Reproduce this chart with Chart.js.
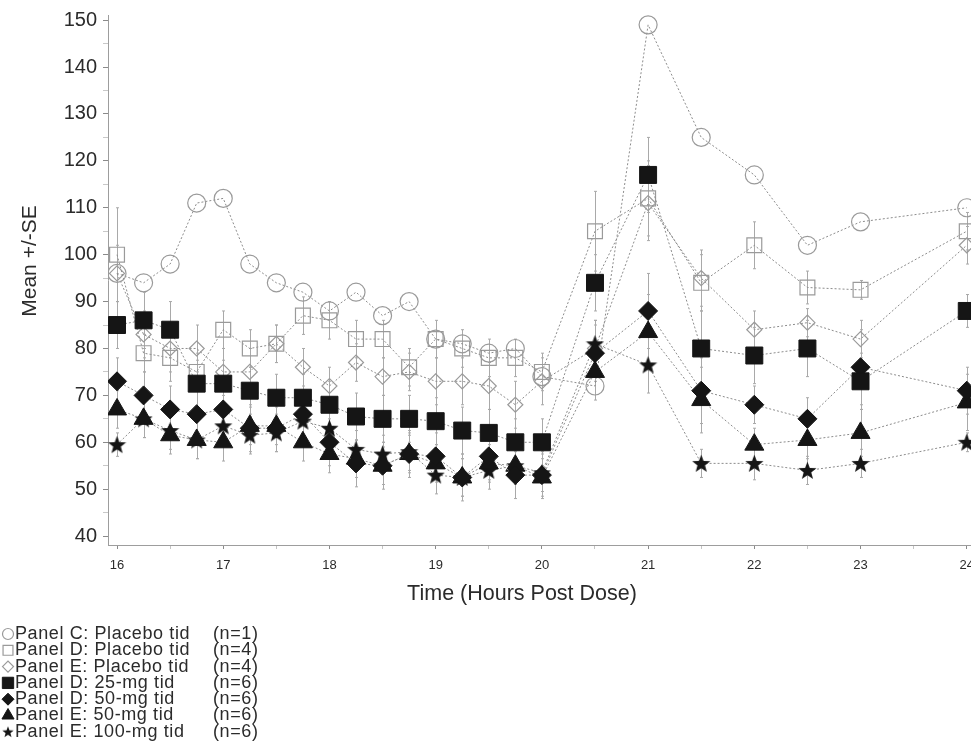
<!DOCTYPE html>
<html>
<head>
<meta charset="utf-8">
<script src="https://cdn.jsdelivr.net/npm/chart.js@4.4.1/dist/chart.umd.min.js"></script>
<style>
  html, body { margin: 0; padding: 0; background: #ffffff; }
  canvas { display: block; }
</style>
</head>
<body>
<canvas id="chart" width="971" height="742"></canvas>
<script>
// Sampling times (hours post dose)
const hours = [16, 16.25, 16.5, 16.75, 17, 17.25, 17.5, 17.75, 18, 18.25, 18.5, 18.75,
               19, 19.25, 19.5, 19.75, 20, 20.5, 21, 21.5, 22, 22.5, 23, 24];

// Group means
const panelCPlacebo = [96, 94, 98, 111, 112, 98, 94, 92, 88, 92, 87, 90, 82, 81, 79, 80, 74, 72, 149, 125, 117, 102, 107, 110];
const panelDPlacebo = [100, 79, 78, 75, 84, 80, 81, 87, 86, 82, 82, 76, 82, 80, 78, 78, 75, 105, 112, 94, 102, 93, 92.5, 105];
const panelEPlacebo = [96, 83, 80, 80, 75, 75, 81, 76, 72, 77, 74, 75, 73, 73, 72, 68, 73, 80, 111, 95, 84, 85.5, 82, 102];
const panelD25mg    = [85, 86, 84, 72.5, 72.5, 71, 69.5, 69.5, 68, 65.5, 65, 65, 64.5, 62.5, 62, 60, 60, 94, 117, 80, 78.5, 80, 73, 88];
const panelD50mg    = [73, 70, 67, 66, 67, 63, 63, 66, 60, 55.5, 55, 57.5, 57, 52.5, 57, 53, 53, 79, 88, 71, 68, 65, 76, 71];
const panelE50mg    = [67, 65, 61.5, 60.5, 60, 63.5, 63.5, 60, 57.5, 56.5, 55, 57.5, 55.5, 52.5, 55.5, 55, 52.5, 75, 83.5, 69, 59.5, 60.5, 62, 68.5];
const panelE100mg   = [59.5, 65, 62.5, 60.5, 63.5, 61.5, 62, 64.5, 63, 58.5, 57.5, 58, 53, 52.5, 54, 55, 53.5, 81, 76.5, 55.5, 55.5, 54, 55.5, 60];

// Standard errors (single-subject group has none)
const seDPlacebo = [10, 4, 5, 4, 4, 4, 4, 4, 4, 4, 4, 4, 4, 4, 4, 4, 4, 8.5, 8, 6, 5, 3.5, 2, 4];
const seEPlacebo = [6, 5, 5, 5, 5, 5, 4, 4, 4, 4, 4, 4, 5, 5, 5, 5, 5, 6, 8, 6, 4, 3, 4, 4];
const seD25mg    = [5, 6, 6, 5, 5, 5, 5, 5, 5, 5, 5, 5, 5, 5, 5, 5, 5, 6, 8, 8, 6, 6, 6, 3.5];
const seD50mg    = [5, 5, 5, 5, 5, 5, 5, 5, 5, 5, 5, 5, 5, 5, 5, 5, 5, 6, 8, 7, 4, 4.5, 8, 5];
const seE50mg    = [4, 4, 4, 4, 4, 4, 4, 4, 4, 4, 4, 4, 4, 4, 4, 4, 4, 6, 8, 7, 3.5, 4, 5, 6];
const seE100mg   = [2.5, 4, 4, 4, 4, 4, 4, 4, 4, 4, 4, 4, 4, 4, 4, 4, 4, 5, 6, 3, 3.5, 3, 3, 2];

// Legend text
const groupNames = ['Panel C: Placebo tid', 'Panel D: Placebo tid', 'Panel E: Placebo tid',
                    'Panel D: 25-mg tid', 'Panel D: 50-mg tid', 'Panel E: 50-mg tid', 'Panel E: 100-mg tid'];
const groupSizes = ['(n=1)', '(n=4)', '(n=4)', '(n=6)', '(n=6)', '(n=6)', '(n=6)'];

const yTickValues = [40, 50, 60, 70, 80, 90, 100, 110, 120, 130, 140, 150];
const xTickValues = [16, 17, 18, 19, 20, 21, 22, 23, 24];

const xTitle = 'Time (Hours Post Dose)';
const yTitle = 'Mean +/-SE';

// ---------------------------------------------------------------------------
const FONT = '"Liberation Sans", Arial, sans-serif';
const INK = '#2b2b2b';
const OPEN = '#9a9a9a';
const SOLID = '#151515';
const LINE = '#8c8c8c';

function starCanvas(size, color) {
  const c = document.createElement('canvas');
  c.width = size; c.height = size;
  const g = c.getContext('2d');
  const cx = size / 2, cy = size / 2 + size * 0.04;
  const R = size / 2, r = R * 0.42;
  g.beginPath();
  for (let k = 0; k < 10; k++) {
    const rad = -Math.PI / 2 + k * Math.PI / 5;
    const rr = k % 2 === 0 ? R : r;
    const px = cx + rr * Math.cos(rad), py = cy + rr * Math.sin(rad);
    if (k === 0) g.moveTo(px, py); else g.lineTo(px, py);
  }
  g.closePath();
  g.fillStyle = color;
  g.fill();
  return c;
}
const starBig = starCanvas(19, SOLID);
const starSmall = starCanvas(12, SOLID);

function points(values) {
  return values.map((v, i) => ({ x: hours[i], y: v }));
}

function series(label, values, se, style) {
  return Object.assign({
    label,
    data: points(values),
    se,
    showLine: true,
    borderColor: LINE,
    borderWidth: 1,
    borderDash: [2, 2],
    tension: 0,
    fill: false,
    pointHoverRadius: 0
  }, style);
}

const openStyle = (shape, r, lr) => ({
  pointStyle: shape, pointRadius: r, legendRadius: lr,
  pointBackgroundColor: 'rgba(255,255,255,0)', pointBorderColor: OPEN, pointBorderWidth: 1.2, order: 2
});
const solidStyle = (shape, r, lr) => ({
  pointStyle: shape, pointRadius: r, legendRadius: lr,
  pointBackgroundColor: SOLID, pointBorderColor: SOLID, pointBorderWidth: 1, order: 1
});

const datasets = [
  series(groupNames[0], panelCPlacebo, null, openStyle('circle', 9, 5.5)),
  series(groupNames[1], panelDPlacebo, seDPlacebo, openStyle('rect', 10.5, 7)),
  series(groupNames[2], panelEPlacebo, seEPlacebo, openStyle('rectRot', 7.5, 5.5)),
  series(groupNames[3], panelD25mg, seD25mg, solidStyle('rect', 12, 8)),
  series(groupNames[4], panelD50mg, seD50mg, solidStyle('rectRot', 9.5, 6)),
  series(groupNames[5], panelE50mg, seE50mg, solidStyle('triangle', 11, 7)),
  Object.assign(series(groupNames[6], panelE100mg, seE100mg, solidStyle(starBig, 9, 6)), { legendStyle: starSmall })
];

// Vertical +/-SE whiskers, drawn beneath the markers
const seWhiskers = {
  id: 'seWhiskers',
  beforeDatasetsDraw(chart) {
    const { ctx } = chart;
    const yScale = chart.scales.y;
    ctx.save();
    ctx.strokeStyle = '#a9a9a9';
    ctx.lineWidth = 1;
    chart.data.datasets.forEach((ds, i) => {
      if (!ds.se) return;
      const meta = chart.getDatasetMeta(i);
      meta.data.forEach((pt, j) => {
        const v = ds.data[j].y, e = ds.se[j];
        const px = Math.round(pt.x) + 0.5;
        const top = yScale.getPixelForValue(v + e), bot = yScale.getPixelForValue(v - e);
        ctx.beginPath();
        ctx.moveTo(px, top); ctx.lineTo(px, bot);
        ctx.moveTo(px - 1.5, top); ctx.lineTo(px + 1.5, top);
        ctx.moveTo(px - 1.5, bot); ctx.lineTo(px + 1.5, bot);
        ctx.stroke();
      });
    });
    ctx.restore();
  }
};

// Axis titles placed at fixed offsets from the plot frame
const axisTitles = {
  id: 'axisTitles',
  afterDraw(chart, args, opts) {
    const { ctx } = chart;
    ctx.save();
    ctx.fillStyle = INK;
    ctx.textAlign = 'center';
    ctx.textBaseline = 'middle';
    ctx.font = opts.xFont;
    ctx.fillText(xTitle, opts.xAt[0], opts.xAt[1]);
    ctx.translate(opts.yAt[0], opts.yAt[1]);
    ctx.rotate(-Math.PI / 2);
    ctx.font = opts.yFont;
    ctx.fillText(yTitle, 0, 0);
    ctx.restore();
  }
};

// One-column key below the axis
const stackedKey = {
  id: 'stackedKey',
  afterDraw(chart, args, opts) {
    const { ctx } = chart;
    ctx.save();
    ctx.font = opts.font;
    ctx.textBaseline = 'middle';
    chart.data.datasets.forEach((ds, i) => {
      const y = opts.top + i * opts.step;
      ctx.fillStyle = ds.pointBackgroundColor;
      ctx.strokeStyle = ds.pointBorderColor;
      ctx.lineWidth = ds.pointBorderWidth;
      Chart.helpers.drawPoint(ctx, {
        pointStyle: ds.legendStyle || ds.pointStyle,
        radius: ds.legendRadius,
        borderWidth: ds.pointBorderWidth,
        rotation: 0
      }, opts.symbolX, y);
      ctx.fillStyle = INK;
      ctx.textAlign = 'left';
      ctx.letterSpacing = opts.spacing;
      ctx.fillText(ds.label, opts.textX, y);
      ctx.fillText(groupSizes[i], opts.sizeX, y);
      ctx.letterSpacing = '0px';
    });
    ctx.restore();
  }
};

new Chart(document.getElementById('chart'), {
  type: 'line',
  data: { datasets },
  plugins: [seWhiskers, axisTitles, stackedKey],
  options: {
    responsive: false,
    devicePixelRatio: 1,
    animation: false,
    events: [],
    layout: { autoPadding: false, padding: { top: 15, right: 0, bottom: 137, left: 0 } },
    plugins: {
      legend: { display: false },
      tooltip: { enabled: false },
      axisTitles: { xFont: '21.5px ' + FONT, yFont: '21px ' + FONT, xAt: [522, 594], yAt: [30, 261] },
      stackedKey: { font: '18px ' + FONT, spacing: '0.6px', top: 634, step: 16.3, symbolX: 8, textX: 15, sizeX: 213 }
    },
    scales: {
      x: {
        type: 'linear',
        min: 15.915,
        max: 24.04,
        afterBuildTicks(scale) {
          const ticks = [];
          for (let v = 16; v <= 24; v += 0.5) ticks.push({ value: v });
          scale.ticks = ticks;
        },
        afterFit(scale) { scale.height = 60; scale.paddingLeft = 0; scale.paddingRight = 0; },
        border: { display: true, color: '#9d9d9d', width: 1, dash: [2, 1] },
        grid: {
          drawOnChartArea: false,
          drawTicks: true,
          tickLength: 4,
          tickColor: (c) => (Number.isInteger(c.tick.value) ? '#8a8a8a' : '#c4c4c4')
        },
        ticks: {
          autoSkip: false,
          maxRotation: 0,
          padding: 9,
          color: INK,
          font: { family: FONT, size: 13 },
          callback: (v) => (xTickValues.includes(v) ? String(v) : '')
        },
        title: { display: false }
      },
      y: {
        type: 'linear',
        min: 38.1,
        max: 151.1,
        afterBuildTicks(scale) {
          const ticks = [];
          for (let v = 40; v <= 150; v += 5) ticks.push({ value: v });
          scale.ticks = ticks;
        },
        afterFit(scale) { scale.width = 108; scale.paddingTop = 0; scale.paddingBottom = 0; },
        border: { display: true, color: '#9d9d9d', width: 1 },
        grid: {
          drawOnChartArea: false,
          drawTicks: true,
          tickLength: 5,
          tickColor: (c) => (c.tick.value % 10 === 0 ? '#8a8a8a' : '#c8c8c8')
        },
        ticks: {
          autoSkip: false,
          padding: 6,
          color: INK,
          font: { family: FONT, size: 20 },
          callback: (v) => (yTickValues.includes(v) ? String(v) : '')
        },
        title: { display: false }
      }
    }
  }
});
</script>
</body>
</html>
